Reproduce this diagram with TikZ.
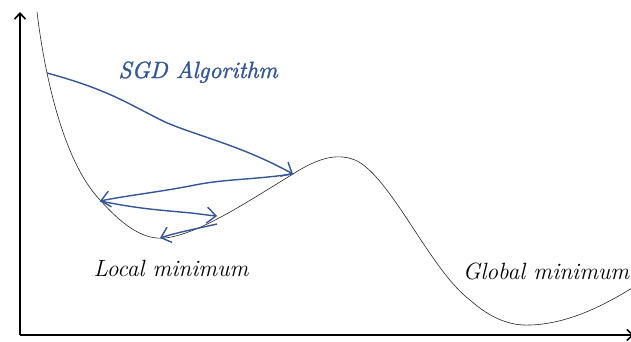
\documentclass[tikz,border=0pt]{standalone}
\usepackage{fontspec}
\newfontfamily\sgdfont[FakeBold=1.3]{lmroman10-italic.otf}
\usetikzlibrary{arrows.meta}
\definecolor{sgdblue}{RGB}{52,86,150}
\begin{document}
\begin{tikzpicture}[x=1pt,y=-1pt,
  axis/.style={line width=1.6pt,-{Straight Barb[length=6pt,width=11pt]}},
  curve/.style={line width=0.6pt,black!85},
  stepline/.style={sgdblue,line width=1.4pt,-{Straight Barb[length=9pt,width=16pt]}},
  lbl/.style={font=\fontsize{23.5}{28}\selectfont\itshape}]
\useasboundingbox (0,0) rectangle (631,342);
\coordinate (o) at (20,335);
\coordinate (ytop) at (20,12);
\coordinate (xend) at (634,335);
\draw[axis] (o) -- (ytop);
\draw[axis] (o) -- (xend);
% loss curve
\draw[curve] (37,12) .. controls (44,70) and (62,160) .. (100,200)
  .. controls (125,228) and (145,240) .. (165,238)
  .. controls (200,234) and (250,200) .. (293,174)
  .. controls (315,160) and (335,152) .. (355,160)
  .. controls (390,175) and (430,270) .. (470,300)
  .. controls (490,318) and (510,326) .. (530,325)
  .. controls (565,324) and (600,308) .. (632,288);
% SGD steps
\coordinate (p0) at (47,73);
\coordinate (p1) at (293,174);
\coordinate (p2) at (100,201);
\coordinate (p3) at (217,216);
\coordinate (p3b) at (217,224);
\coordinate (p4) at (160,238);
\draw[stepline] (p0) .. controls (110,90) and (130,105) .. (165,122)
  .. controls (200,137) and (240,145) .. (p1);
\draw[stepline] (p1) .. controls (250,180) and (225,179) .. (195,185)
  .. controls (160,192) and (130,195) .. (p2);
\draw[stepline] (p2) .. controls (140,209) and (160,210) .. (180,212)
  .. controls (195,213) and (205,215) .. (p3);
\draw[stepline] (p3b) .. controls (195,229) and (175,233) .. (p4);
\node[text=sgdblue,font=\fontsize{23.5}{28}\selectfont\sgdfont] (sgd) at (198,72) {SGD Algorithm};
\node[lbl] (loc) at (171,268) {Local minimum};
\node[lbl] (glob) at (546,271) {Global minimum};
\end{tikzpicture}
\end{document}
